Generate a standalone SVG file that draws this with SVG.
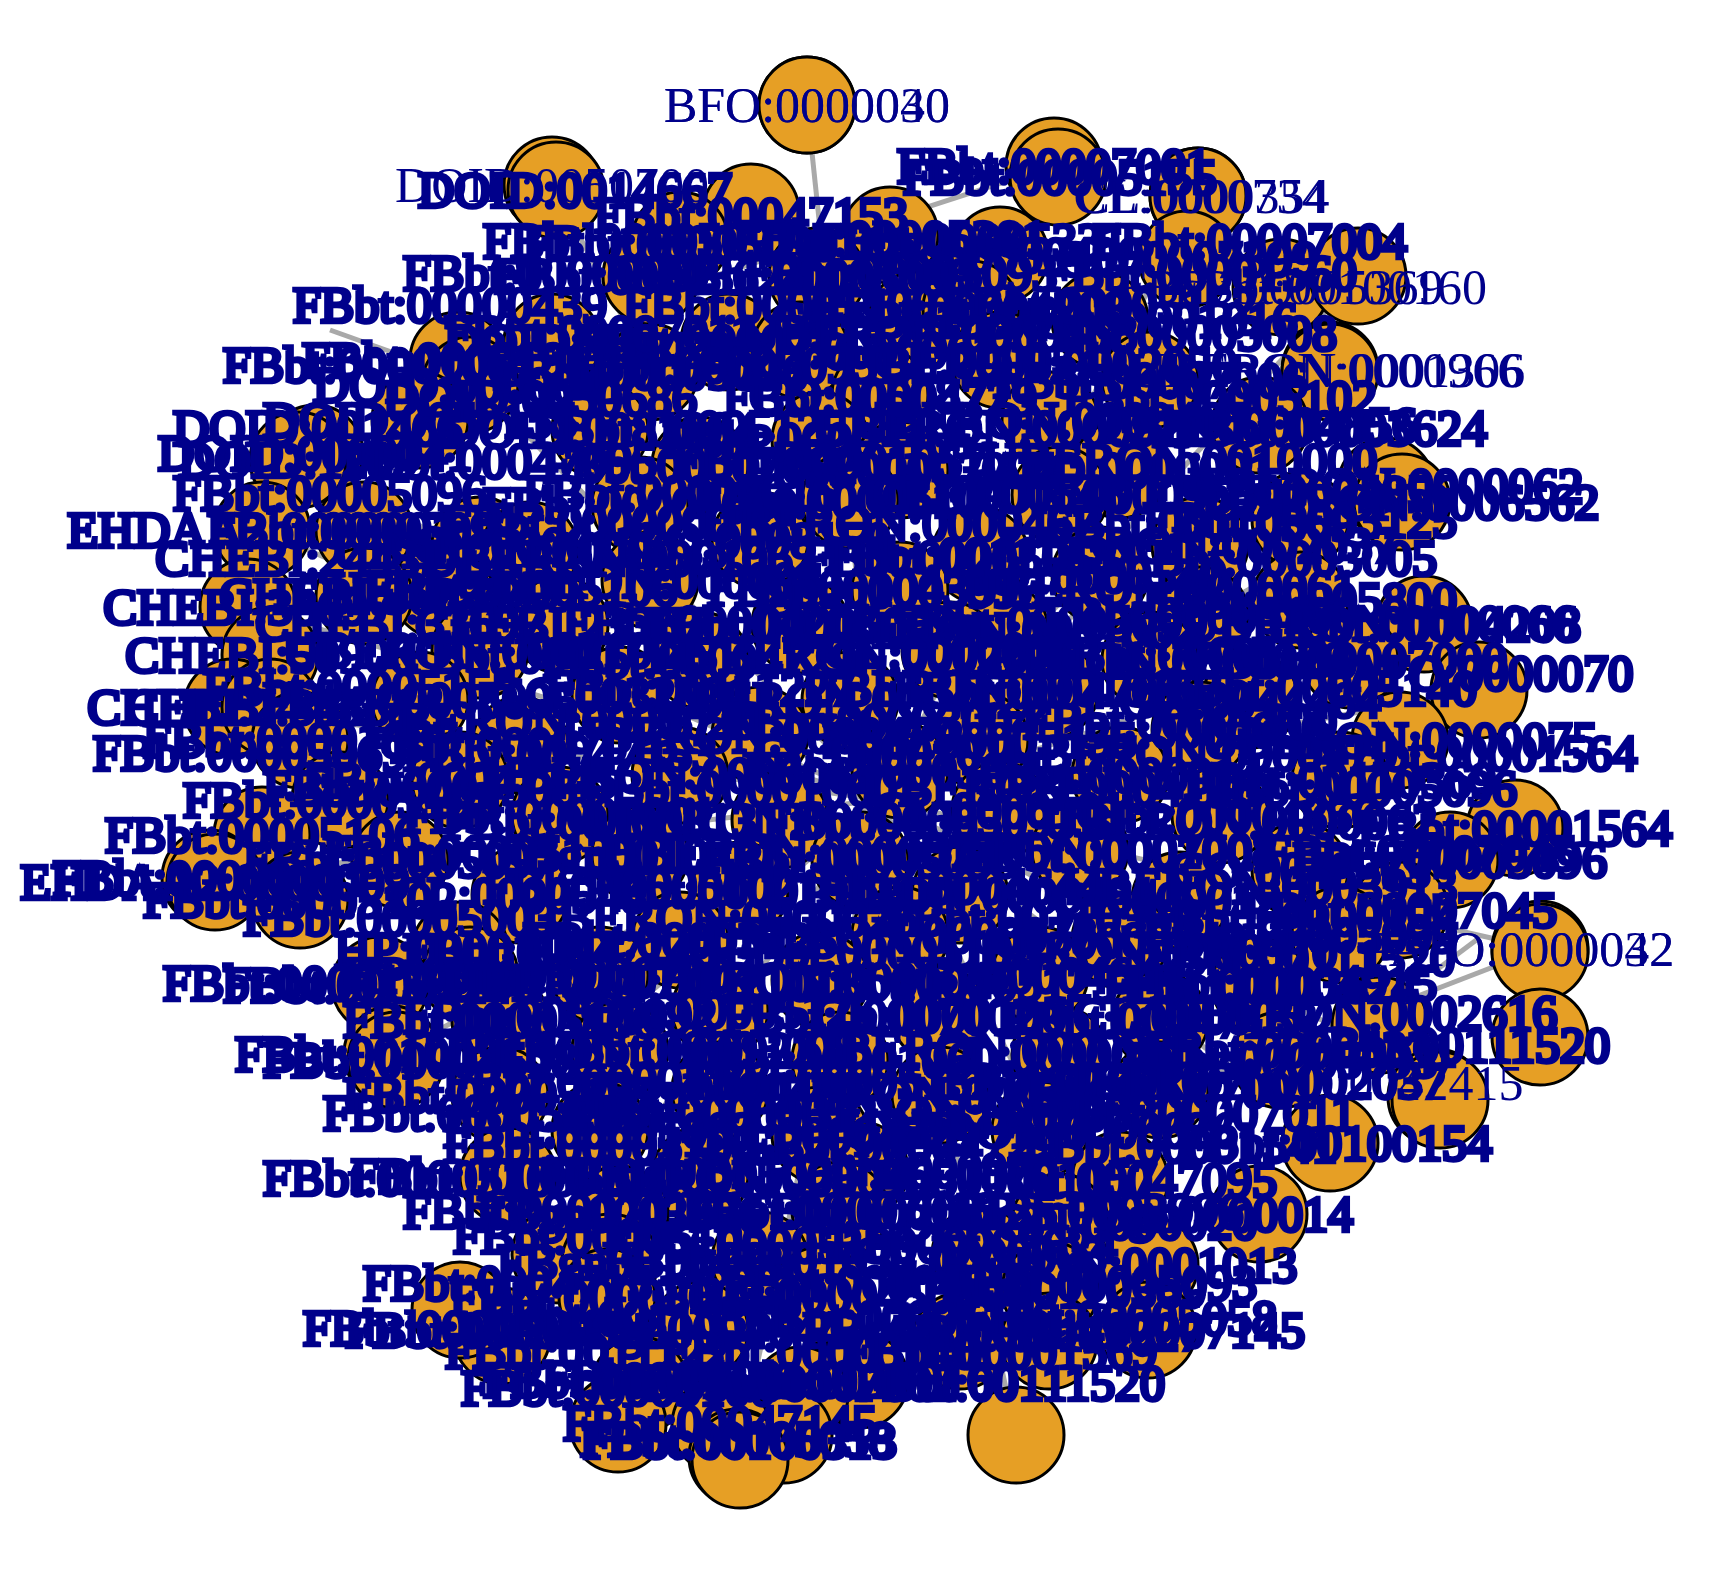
<svg xmlns="http://www.w3.org/2000/svg" width="1722" height="1572" viewBox="0 0 1722 1572">
<style>
.bg{fill:#ffffff}
.e{stroke:#A9A9A9;stroke-width:5;fill:none}
.n circle{fill:#E69F25;stroke:#000000;stroke-width:3}
.l{font-family:"Liberation Serif","Times New Roman",serif;font-size:50px;fill:#00008B;text-anchor:middle}
.b{font-family:"Liberation Serif","Times New Roman",serif;font-size:50px;fill:#00008B;stroke:#00008B;stroke-width:4.5;text-anchor:middle}
</style>
<rect class="bg" x="0" y="0" width="1722" height="1572"/>
<g id="edges">
<line class="e" x1="640" y1="300" x2="1054" y2="166"/>
<line class="e" x1="880" y1="800" x2="1479" y2="690"/>
<line class="e" x1="1300" y1="800" x2="1479" y2="690"/>
<line class="e" x1="1200" y1="1080" x2="1540" y2="949"/>
<line class="e" x1="880" y1="800" x2="1540" y2="949"/>
<line class="e" x1="880" y1="800" x2="563" y2="1065"/>
<line class="e" x1="458" y1="364" x2="880" y2="800"/>
<line class="e" x1="807" y1="105" x2="880" y2="800"/>
<line class="e" x1="552" y1="185" x2="880" y2="800"/>
<line class="e" x1="1198" y1="196" x2="880" y2="800"/>
<line class="e" x1="1358" y1="276" x2="880" y2="800"/>
<line class="e" x1="1330" y1="370" x2="880" y2="800"/>
<line class="e" x1="1402" y1="502" x2="880" y2="800"/>
<line class="e" x1="1424" y1="624" x2="880" y2="800"/>
<line class="e" x1="1446" y1="1082" x2="880" y2="800"/>
<line class="e" x1="1330" y1="1143" x2="880" y2="800"/>
<line class="e" x1="1148" y1="1330" x2="880" y2="800"/>
<line class="e" x1="1016" y1="1435" x2="880" y2="800"/>
<line class="e" x1="737" y1="1457" x2="880" y2="800"/>
<line class="e" x1="502" y1="1336" x2="880" y2="800"/>
<line class="e" x1="392" y1="1054" x2="880" y2="800"/>
<line class="e" x1="210" y1="878" x2="880" y2="800"/>
<line class="e" x1="232" y1="707" x2="880" y2="800"/>
<line class="e" x1="248" y1="607" x2="880" y2="800"/>
<line class="e" x1="262" y1="530" x2="880" y2="800"/>
<line class="e" x1="298" y1="453" x2="880" y2="800"/>
<line class="e" x1="425" y1="364" x2="330" y2="330"/>
<line class="e" x1="1435" y1="971" x2="1479" y2="938"/>
<line class="e" x1="560" y1="1065" x2="700" y2="900"/>
</g>
<g id="nodes">
<g id="n1" class="n"><circle cx="807" cy="105" r="48"/></g>
<g id="n2" class="n"><circle cx="807" cy="105" r="48"/></g>
<g id="n3" class="n"><circle cx="552" cy="185" r="48"/></g>
<g id="n4" class="n"><circle cx="556" cy="190" r="48"/></g>
<g id="n5" class="n"><circle cx="1054" cy="166" r="48"/></g>
<g id="n6" class="n"><circle cx="1058" cy="177" r="48"/></g>
<g id="n7" class="n"><circle cx="1198" cy="196" r="48"/></g>
<g id="n8" class="n"><circle cx="1198" cy="196" r="48"/></g>
<g id="n9" class="n"><circle cx="751" cy="212" r="48"/></g>
<g id="n10" class="n"><circle cx="680" cy="240" r="48"/></g>
<g id="n11" class="n"><circle cx="890" cy="235" r="48"/></g>
<g id="n12" class="n"><circle cx="651" cy="276" r="48"/></g>
<g id="n13" class="n"><circle cx="1187" cy="259" r="48"/></g>
<g id="n14" class="n"><circle cx="1281" cy="287" r="48"/></g>
<g id="n15" class="n"><circle cx="1358" cy="276" r="48"/></g>
<g id="n16" class="n"><circle cx="1000" cy="255" r="48"/></g>
<g id="n17" class="n"><circle cx="817" cy="276" r="48"/></g>
<g id="n18" class="n"><circle cx="916" cy="320" r="48"/></g>
<g id="n19" class="n"><circle cx="971" cy="309" r="48"/></g>
<g id="n20" class="n"><circle cx="729" cy="342" r="48"/></g>
<g id="n21" class="n"><circle cx="552" cy="342" r="48"/></g>
<g id="n22" class="n"><circle cx="1100" cy="320" r="48"/></g>
<g id="n23" class="n"><circle cx="458" cy="360" r="48"/></g>
<g id="n24" class="n"><circle cx="470" cy="385" r="48"/></g>
<g id="n25" class="n"><circle cx="800" cy="350" r="48"/></g>
<g id="n26" class="n"><circle cx="1000" cy="360" r="48"/></g>
<g id="n27" class="n"><circle cx="1330" cy="370" r="48"/></g>
<g id="n28" class="n"><circle cx="1330" cy="372" r="48"/></g>
<g id="n29" class="n"><circle cx="650" cy="372" r="48"/></g>
<g id="n30" class="n"><circle cx="1150" cy="380" r="48"/></g>
<g id="n31" class="n"><circle cx="880" cy="395" r="48"/></g>
<g id="n32" class="n"><circle cx="420" cy="420" r="48"/></g>
<g id="n33" class="n"><circle cx="600" cy="430" r="48"/></g>
<g id="n34" class="n"><circle cx="820" cy="440" r="48"/></g>
<g id="n35" class="n"><circle cx="1050" cy="420" r="48"/></g>
<g id="n36" class="n"><circle cx="1260" cy="425" r="48"/></g>
<g id="n37" class="n"><circle cx="315" cy="453" r="48"/></g>
<g id="n38" class="n"><circle cx="298" cy="460" r="48"/></g>
<g id="n39" class="n"><circle cx="700" cy="465" r="48"/></g>
<g id="n40" class="n"><circle cx="900" cy="470" r="48"/></g>
<g id="n41" class="n"><circle cx="1386" cy="486" r="48"/></g>
<g id="n42" class="n"><circle cx="1120" cy="470" r="48"/></g>
<g id="n43" class="n"><circle cx="262" cy="530" r="48"/></g>
<g id="n44" class="n"><circle cx="364" cy="530" r="48"/></g>
<g id="n45" class="n"><circle cx="640" cy="505" r="48"/></g>
<g id="n46" class="n"><circle cx="850" cy="500" r="48"/></g>
<g id="n47" class="n"><circle cx="1060" cy="495" r="48"/></g>
<g id="n48" class="n"><circle cx="1402" cy="502" r="48"/></g>
<g id="n49" class="n"><circle cx="1300" cy="520" r="48"/></g>
<g id="n50" class="n"><circle cx="480" cy="545" r="48"/></g>
<g id="n51" class="n"><circle cx="530" cy="550" r="48"/></g>
<g id="n52" class="n"><circle cx="760" cy="540" r="48"/></g>
<g id="n53" class="n"><circle cx="980" cy="555" r="48"/></g>
<g id="n54" class="n"><circle cx="1200" cy="545" r="48"/></g>
<g id="n55" class="n"><circle cx="440" cy="590" r="48"/></g>
<g id="n56" class="n"><circle cx="650" cy="580" r="48"/></g>
<g id="n57" class="n"><circle cx="900" cy="590" r="48"/></g>
<g id="n58" class="n"><circle cx="1100" cy="575" r="48"/></g>
<g id="n59" class="n"><circle cx="1300" cy="600" r="48"/></g>
<g id="n60" class="n"><circle cx="248" cy="607" r="48"/></g>
<g id="n61" class="n"><circle cx="364" cy="596" r="48"/></g>
<g id="n62" class="n"><circle cx="560" cy="625" r="48"/></g>
<g id="n63" class="n"><circle cx="800" cy="625" r="48"/></g>
<g id="n64" class="n"><circle cx="1000" cy="630" r="48"/></g>
<g id="n65" class="n"><circle cx="1424" cy="624" r="48"/></g>
<g id="n66" class="n"><circle cx="1479" cy="690" r="48"/></g>
<g id="n67" class="n"><circle cx="1200" cy="615" r="48"/></g>
<g id="n68" class="n"><circle cx="270" cy="655" r="48"/></g>
<g id="n69" class="n"><circle cx="232" cy="707" r="48"/></g>
<g id="n70" class="n"><circle cx="270" cy="707" r="48"/></g>
<g id="n71" class="n"><circle cx="480" cy="650" r="48"/></g>
<g id="n72" class="n"><circle cx="700" cy="660" r="48"/></g>
<g id="n73" class="n"><circle cx="950" cy="650" r="48"/></g>
<g id="n74" class="n"><circle cx="1150" cy="660" r="48"/></g>
<g id="n75" class="n"><circle cx="1350" cy="660" r="48"/></g>
<g id="n76" class="n"><circle cx="420" cy="700" r="48"/></g>
<g id="n77" class="n"><circle cx="620" cy="695" r="48"/></g>
<g id="n78" class="n"><circle cx="850" cy="700" r="48"/></g>
<g id="n79" class="n"><circle cx="1050" cy="690" r="48"/></g>
<g id="n80" class="n"><circle cx="1250" cy="700" r="48"/></g>
<g id="n81" class="n"><circle cx="300" cy="740" r="48"/></g>
<g id="n82" class="n"><circle cx="520" cy="745" r="48"/></g>
<g id="n83" class="n"><circle cx="760" cy="735" r="48"/></g>
<g id="n84" class="n"><circle cx="980" cy="740" r="48"/></g>
<g id="n85" class="n"><circle cx="1200" cy="730" r="48"/></g>
<g id="n86" class="n"><circle cx="1400" cy="740" r="48"/></g>
<g id="n87" class="n"><circle cx="340" cy="800" r="48"/></g>
<g id="n88" class="n"><circle cx="460" cy="780" r="48"/></g>
<g id="n89" class="n"><circle cx="680" cy="775" r="48"/></g>
<g id="n90" class="n"><circle cx="900" cy="770" r="48"/></g>
<g id="n91" class="n"><circle cx="1120" cy="775" r="48"/></g>
<g id="n92" class="n"><circle cx="1340" cy="780" r="48"/></g>
<g id="n93" class="n"><circle cx="1515" cy="828" r="48"/></g>
<g id="n94" class="n"><circle cx="262" cy="835" r="48"/></g>
<g id="n95" class="n"><circle cx="560" cy="815" r="48"/></g>
<g id="n96" class="n"><circle cx="780" cy="820" r="48"/></g>
<g id="n97" class="n"><circle cx="1000" cy="810" r="48"/></g>
<g id="n98" class="n"><circle cx="1220" cy="815" r="48"/></g>
<g id="n99" class="n"><circle cx="1450" cy="860" r="48"/></g>
<g id="n100" class="n"><circle cx="210" cy="878" r="48"/></g>
<g id="n101" class="n"><circle cx="215" cy="882" r="48"/></g>
<g id="n102" class="n"><circle cx="400" cy="860" r="48"/></g>
<g id="n103" class="n"><circle cx="640" cy="855" r="48"/></g>
<g id="n104" class="n"><circle cx="860" cy="860" r="48"/></g>
<g id="n105" class="n"><circle cx="1080" cy="850" r="48"/></g>
<g id="n106" class="n"><circle cx="1300" cy="870" r="48"/></g>
<g id="n107" class="n"><circle cx="300" cy="900" r="48"/></g>
<g id="n108" class="n"><circle cx="520" cy="895" r="48"/></g>
<g id="n109" class="n"><circle cx="740" cy="890" r="48"/></g>
<g id="n110" class="n"><circle cx="960" cy="895" r="48"/></g>
<g id="n111" class="n"><circle cx="1180" cy="900" r="48"/></g>
<g id="n112" class="n"><circle cx="1400" cy="910" r="48"/></g>
<g id="n113" class="n"><circle cx="460" cy="950" r="48"/></g>
<g id="n114" class="n"><circle cx="470" cy="975" r="48"/></g>
<g id="n115" class="n"><circle cx="680" cy="940" r="48"/></g>
<g id="n116" class="n"><circle cx="900" cy="935" r="48"/></g>
<g id="n117" class="n"><circle cx="1120" cy="940" r="48"/></g>
<g id="n118" class="n"><circle cx="1340" cy="935" r="48"/></g>
<g id="n119" class="n"><circle cx="1540" cy="949" r="48"/></g>
<g id="n120" class="n"><circle cx="1540" cy="952" r="48"/></g>
<g id="n121" class="n"><circle cx="380" cy="985" r="48"/></g>
<g id="n122" class="n"><circle cx="600" cy="975" r="48"/></g>
<g id="n123" class="n"><circle cx="820" cy="980" r="48"/></g>
<g id="n124" class="n"><circle cx="1040" cy="975" r="48"/></g>
<g id="n125" class="n"><circle cx="1260" cy="985" r="48"/></g>
<g id="n126" class="n"><circle cx="1540" cy="1037" r="48"/></g>
<g id="n127" class="n"><circle cx="500" cy="1020" r="48"/></g>
<g id="n128" class="n"><circle cx="720" cy="1010" r="48"/></g>
<g id="n129" class="n"><circle cx="940" cy="1015" r="48"/></g>
<g id="n130" class="n"><circle cx="1160" cy="1020" r="48"/></g>
<g id="n131" class="n"><circle cx="1380" cy="1025" r="48"/></g>
<g id="n132" class="n"><circle cx="392" cy="1054" r="48"/></g>
<g id="n133" class="n"><circle cx="396" cy="1060" r="48"/></g>
<g id="n134" class="n"><circle cx="620" cy="1050" r="48"/></g>
<g id="n135" class="n"><circle cx="840" cy="1060" r="48"/></g>
<g id="n136" class="n"><circle cx="1060" cy="1055" r="48"/></g>
<g id="n137" class="n"><circle cx="1280" cy="1060" r="48"/></g>
<g id="n138" class="n"><circle cx="1436" cy="1097" r="48"/></g>
<g id="n139" class="n"><circle cx="500" cy="1095" r="48"/></g>
<g id="n140" class="n"><circle cx="720" cy="1090" r="48"/></g>
<g id="n141" class="n"><circle cx="940" cy="1095" r="48"/></g>
<g id="n142" class="n"><circle cx="1160" cy="1090" r="48"/></g>
<g id="n143" class="n"><circle cx="1440" cy="1100" r="48"/></g>
<g id="n144" class="n"><circle cx="600" cy="1130" r="48"/></g>
<g id="n145" class="n"><circle cx="820" cy="1135" r="48"/></g>
<g id="n146" class="n"><circle cx="1040" cy="1130" r="48"/></g>
<g id="n147" class="n"><circle cx="1330" cy="1143" r="48"/></g>
<g id="n148" class="n"><circle cx="508" cy="1176" r="48"/></g>
<g id="n149" class="n"><circle cx="700" cy="1175" r="48"/></g>
<g id="n150" class="n"><circle cx="860" cy="1170" r="48"/></g>
<g id="n151" class="n"><circle cx="1120" cy="1180" r="48"/></g>
<g id="n152" class="n"><circle cx="620" cy="1214" r="48"/></g>
<g id="n153" class="n"><circle cx="840" cy="1210" r="48"/></g>
<g id="n154" class="n"><circle cx="1259" cy="1214" r="48"/></g>
<g id="n155" class="n"><circle cx="1060" cy="1222" r="48"/></g>
<g id="n156" class="n"><circle cx="560" cy="1255" r="48"/></g>
<g id="n157" class="n"><circle cx="610" cy="1262" r="48"/></g>
<g id="n158" class="n"><circle cx="760" cy="1260" r="48"/></g>
<g id="n159" class="n"><circle cx="980" cy="1255" r="48"/></g>
<g id="n160" class="n"><circle cx="1150" cy="1265" r="48"/></g>
<g id="n161" class="n"><circle cx="607" cy="1297" r="48"/></g>
<g id="n162" class="n"><circle cx="820" cy="1295" r="48"/></g>
<g id="n163" class="n"><circle cx="1050" cy="1290" r="48"/></g>
<g id="n164" class="n"><circle cx="502" cy="1336" r="48"/></g>
<g id="n165" class="n"><circle cx="700" cy="1330" r="48"/></g>
<g id="n166" class="n"><circle cx="960" cy="1341" r="48"/></g>
<g id="n167" class="n"><circle cx="1049" cy="1341" r="48"/></g>
<g id="n168" class="n"><circle cx="1148" cy="1330" r="48"/></g>
<g id="n169" class="n"><circle cx="460" cy="1310" r="48"/></g>
<g id="n170" class="n"><circle cx="640" cy="1385" r="48"/></g>
<g id="n171" class="n"><circle cx="860" cy="1380" r="48"/></g>
<g id="n172" class="n"><circle cx="800" cy="1395" r="48"/></g>
<g id="n173" class="n"><circle cx="618" cy="1424" r="48"/></g>
<g id="n174" class="n"><circle cx="784" cy="1435" r="48"/></g>
<g id="n175" class="n"><circle cx="1016" cy="1435" r="48"/></g>
<g id="n176" class="n"><circle cx="720" cy="1425" r="48"/></g>
<g id="n177" class="n"><circle cx="737" cy="1457" r="48"/></g>
<g id="n178" class="n"><circle cx="740" cy="1460" r="48"/></g>
</g>
<g id="labels">
<text class="l" x="807" y="122">BFO:0000040</text>
<text class="l" x="807" y="122">BFO:0000030</text>
<text class="l" x="552" y="202">DOID:0050700</text>
<text class="b" x="575" y="207">DOID:0014667</text>
<text class="b" x="1054" y="183">FBbt:00007001</text>
<text class="b" x="1060" y="194">FBbt:00005155</text>
<text class="l" x="1200" y="213">CL:0000734</text>
<text class="l" x="1203" y="213">CL:0000354</text>
<text class="b" x="751" y="232">FBbt:00047153</text>
<text class="b" x="680" y="260">FBbt:00005093</text>
<text class="b" x="890" y="255">FBbt:00005381</text>
<text class="b" x="651" y="293">FBbt:00003624</text>
<text class="b" x="1187" y="276">GO:0007399</text>
<text class="l" x="1281" y="304">FBdv:00005369</text>
<text class="l" x="1330" y="304">FBbt:00100160</text>
<text class="b" x="1000" y="272">FBgn0000490</text>
<text class="b" x="817" y="293">FBbt:00005099</text>
<text class="b" x="916" y="337">CHEBI:15377</text>
<text class="b" x="971" y="326">FBbt:00004208</text>
<text class="b" x="729" y="359">FBbt:00007145</text>
<text class="b" x="552" y="359">DOID:162</text>
<text class="b" x="1100" y="337">UBERON:0001016</text>
<text class="b" x="458" y="377">FBbt:00001911</text>
<text class="b" x="470" y="402">DOID:0060041</text>
<text class="b" x="800" y="367">UBERON:0000061</text>
<text class="b" x="1000" y="377">CL:0000540</text>
<text class="l" x="1325" y="387">UBERON:0000966</text>
<text class="l" x="1328" y="387">UBERON:0001306</text>
<text class="b" x="650" y="389">FBbt:00005096</text>
<text class="b" x="1150" y="397">FBbt:00007006</text>
<text class="b" x="880" y="412">GO:0050877</text>
<text class="b" x="420" y="437">DOID:0050155</text>
<text class="b" x="600" y="447">DOID:0081004</text>
<text class="b" x="820" y="457">FBbt:00005105</text>
<text class="b" x="1050" y="437">UBERON:0000465</text>
<text class="b" x="1260" y="442">FBbt:00004856</text>
<text class="b" x="315" y="470">DOID:0060041</text>
<text class="b" x="298" y="477">DOID:1289</text>
<text class="b" x="700" y="482">FBbt:00007002</text>
<text class="b" x="900" y="487">FBbt:00003004</text>
<text class="b" x="1386" y="503">UBERON:0000062</text>
<text class="b" x="1120" y="487">PATO:0000001</text>
<text class="b" x="262" y="547">EHDAA2:0000001</text>
<text class="b" x="364" y="547">FBbt:00005093</text>
<text class="b" x="640" y="522">FBbt:00001060</text>
<text class="b" x="850" y="517">FBbt:00005106</text>
<text class="b" x="1060" y="512">UBERON:0000955</text>
<text class="b" x="1402" y="519">UBERON:0006562</text>
<text class="b" x="1300" y="537">FBbt:00003125</text>
<text class="b" x="540" y="562">CL:0000125</text>
<text class="b" x="530" y="567">UBERON:0000033</text>
<text class="b" x="760" y="557">GO:0008150</text>
<text class="b" x="980" y="572">FBbt:00111227</text>
<text class="b" x="1200" y="562">UBERON:0002037</text>
<text class="b" x="440" y="607">CHEBI:24431</text>
<text class="b" x="650" y="597">UBERON:0000061</text>
<text class="b" x="900" y="607">FBgn0003996</text>
<text class="b" x="1100" y="592">CL:0000540</text>
<text class="b" x="1300" y="617">FBbt:00005800</text>
<text class="b" x="248" y="624">CHEBI:33697</text>
<text class="b" x="364" y="613">CHEBI:36357</text>
<text class="b" x="560" y="642">CHEBI:23367</text>
<text class="b" x="800" y="642">FBbt:00005069</text>
<text class="b" x="1000" y="647">UBERON:0001062</text>
<text class="b" x="1424" y="641">FBbt:00004208</text>
<text class="b" x="1479" y="690">PATO:0000070</text>
<text class="b" x="1200" y="632">FBbt:00005100</text>
<text class="b" x="270" y="672">CHEBI:50906</text>
<text class="b" x="232" y="724">CHEBI:24432</text>
<text class="b" x="270" y="724">CHEBI:35381</text>
<text class="b" x="480" y="667">UBERON:0002101</text>
<text class="b" x="700" y="677">FBbt:00004729</text>
<text class="b" x="950" y="667">CL:0000003</text>
<text class="b" x="1150" y="677">UBERON:0000020</text>
<text class="b" x="1350" y="677">FBbt:00007000</text>
<text class="b" x="420" y="717">FBbt:00005095</text>
<text class="b" x="620" y="712">GO:0032501</text>
<text class="b" x="850" y="717">UBERON:0004120</text>
<text class="b" x="1050" y="707">FBbt:00047095</text>
<text class="b" x="1250" y="717">GO:0044464</text>
<text class="b" x="300" y="757">FBbt:00001057</text>
<text class="b" x="520" y="762">FBbt:00007016</text>
<text class="b" x="760" y="752">UBERON:0000479</text>
<text class="b" x="980" y="757">FBbt:00005155</text>
<text class="b" x="1200" y="747">CL:0000000</text>
<text class="b" x="1400" y="757">UBERON:0000075</text>
<text class="b" x="340" y="817">FBbt:00005103</text>
<text class="b" x="460" y="797">FBbt:00047145</text>
<text class="b" x="680" y="792">UBERON:0000062</text>
<text class="b" x="900" y="787">FBbt:00003005</text>
<text class="b" x="1120" y="792">FBgn0000014</text>
<text class="b" x="1340" y="797">FBbt:00110369</text>
<text class="b" x="1515" y="845">FBbt:00001564</text>
<text class="b" x="262" y="852">FBbt:00005106</text>
<text class="b" x="560" y="832">FBbt:00007001</text>
<text class="b" x="780" y="837">UBERON:0000468</text>
<text class="b" x="1000" y="827">CL:0000101</text>
<text class="b" x="1220" y="832">FBbt:00004856</text>
<text class="b" x="1450" y="877">FBbt:00005096</text>
<text class="b" x="210" y="895">FBbt:00000001</text>
<text class="b" x="215" y="899">EHDAA2:0000009</text>
<text class="b" x="400" y="877">FBbt:00005097</text>
<text class="b" x="640" y="872">FBgn0010433</text>
<text class="b" x="860" y="877">FBbt:00005058</text>
<text class="b" x="1080" y="867">UBERON:0001008</text>
<text class="b" x="1300" y="887">GO:0048513</text>
<text class="b" x="300" y="917">FBbt:00005102</text>
<text class="b" x="520" y="912">CL:0000548</text>
<text class="b" x="740" y="907">FBbt:00001911</text>
<text class="b" x="960" y="912">UBERON:0000481</text>
<text class="b" x="1180" y="917">CL:0000125</text>
<text class="b" x="1400" y="927">FBbt:00007045</text>
<text class="b" x="460" y="967">HP:0000118</text>
<text class="b" x="470" y="992">HP:0001939</text>
<text class="b" x="680" y="957">FBbt:00003125</text>
<text class="b" x="900" y="952">UBERON:0000073</text>
<text class="b" x="1120" y="957">CL:0000540</text>
<text class="b" x="1300" y="952">FBbt:00005099</text>
<text class="l" x="1520" y="966">PATO:0000042</text>
<text class="l" x="1520" y="966">PATO:0000032</text>
<text class="b" x="380" y="1002">FBbt:00005140</text>
<text class="b" x="600" y="992">FBbt:00007004</text>
<text class="b" x="820" y="997">UBERON:0001017</text>
<text class="b" x="1040" y="992">FBgn0004644</text>
<text class="b" x="1260" y="1002">FBbt:00003624</text>
<text class="b" x="1455" y="1062">FBbt:00111520</text>
<text class="b" x="500" y="1037">FBbt:00005106</text>
<text class="b" x="720" y="1027">FBbt:00005125</text>
<text class="b" x="940" y="1032">CL:0000100</text>
<text class="b" x="1160" y="1037">FBbt:00047153</text>
<text class="b" x="1360" y="1030">UBERON:0002616</text>
<text class="b" x="392" y="1071">FBbt:00100313</text>
<text class="b" x="420" y="1077">FBbt:00004508</text>
<text class="b" x="620" y="1067">UBERON:0000922</text>
<text class="b" x="840" y="1077">FBbt:00001060</text>
<text class="b" x="1060" y="1072">CL:0000057</text>
<text class="b" x="1280" y="1077">FBbt:00005093</text>
<text class="b" x="500" y="1112">FBbt:00005135</text>
<text class="b" x="720" y="1107">FBgn0000490</text>
<text class="b" x="940" y="1112">UBERON:0003913</text>
<text class="b" x="1160" y="1107">FBbt:00007001</text>
<text class="l" x="1393" y="1100">GO:0042415</text>
<text class="b" x="600" y="1147">FBbt:00005003</text>
<text class="b" x="820" y="1152">FBbt:00004729</text>
<text class="b" x="1040" y="1147">UBERON:0000026</text>
<text class="b" x="1335" y="1160">FBbt:00100154</text>
<text class="b" x="508" y="1193">FBbt:00003004</text>
<text class="b" x="700" y="1192">FBbt:00005069</text>
<text class="b" x="860" y="1187">UBERON:0000970</text>
<text class="b" x="1120" y="1197">FBbt:00047095</text>
<text class="b" x="620" y="1231">FBgn0003996</text>
<text class="b" x="840" y="1227">FBbt:00007016</text>
<text class="b" x="1210" y="1231">FBgn0000014</text>
<text class="b" x="1060" y="1239">UBERON:0000020</text>
<text class="b" x="610" y="1253">FBbt:00005105</text>
<text class="b" x="640" y="1279">FBgn0010433</text>
<text class="b" x="760" y="1277">FBbt:00001057</text>
<text class="b" x="980" y="1272">CL:0000003</text>
<text class="b" x="1100" y="1282">UBERON:0001013</text>
<text class="b" x="607" y="1314">FBbt:00003005</text>
<text class="b" x="820" y="1312">FBbt:00004508</text>
<text class="b" x="1050" y="1307">FBbt:00110369</text>
<text class="b" x="502" y="1347">FBbt:00005102</text>
<text class="b" x="700" y="1347">FBgn0004644</text>
<text class="b" x="960" y="1347">FBbt:00005140</text>
<text class="b" x="1049" y="1350">FBbt:00111227</text>
<text class="b" x="1148" y="1347">FBbt:00007145</text>
<text class="b" x="460" y="1345">FBbt:00005096</text>
<text class="b" x="640" y="1397">FBbt:00004856</text>
<text class="b" x="860" y="1397">FBbt:00100160</text>
<text class="b" x="800" y="1400">FBbt:00007002</text>
<text class="b" x="618" y="1405">FBbt:00005100</text>
<text class="b" x="1010" y="1400">FBbt:00111520</text>
<text class="b" x="720" y="1440">FBbt:00047145</text>
<text class="b" x="737" y="1456">FBbt:00005058</text>
<text class="b" x="740" y="1458">FBbt:00100313</text>
<text class="b" x="640" y="258">FBbt:00005092</text>
<text class="b" x="970" y="258">FBbt:00005331</text>
<text class="b" x="1250" y="258">FBbt:00007004</text>
<text class="b" x="560" y="290">FBbt:00000052</text>
<text class="b" x="900" y="290">FBbt:00005093</text>
<text class="b" x="1200" y="290">FBbt:00001560</text>
<text class="b" x="450" y="322">FBbt:00000439</text>
<text class="b" x="780" y="322">FBbt:00005100</text>
<text class="b" x="1100" y="322">FBbt:00005152</text>
<text class="b" x="600" y="350">FBbt:00007011</text>
<text class="b" x="940" y="350">UBERON:0000468</text>
<text class="b" x="1180" y="350">FBbt:00003008</text>
<text class="b" x="380" y="382">FBbt:00001061</text>
<text class="b" x="720" y="382">FBbt:00005095</text>
<text class="b" x="1040" y="382">UBERON:0002050</text>
<text class="b" x="540" y="415">DOID:0050686</text>
<text class="b" x="880" y="415">FBbt:00004729</text>
<text class="b" x="1220" y="415">FBbt:00005102</text>
<text class="b" x="330" y="445">DOID:0014667</text>
<text class="b" x="690" y="445">FBbt:00005125</text>
<text class="b" x="1010" y="445">UBERON:0000922</text>
<text class="b" x="1330" y="445">FBbt:00003624</text>
<text class="b" x="500" y="478">FBbt:00047095</text>
<text class="b" x="830" y="478">FBbt:00001057</text>
<text class="b" x="1180" y="478">UBERON:0010000</text>
<text class="b" x="330" y="510">FBbt:00005096</text>
<text class="b" x="680" y="510">FBbt:00007016</text>
<text class="b" x="1000" y="510">CL:0000548</text>
<text class="b" x="1300" y="510">FBbt:00004856</text>
<text class="b" x="600" y="540">FBbt:00000001</text>
<text class="b" x="900" y="540">UBERON:0000467</text>
<text class="b" x="1200" y="540">FBbt:00110369</text>
<text class="b" x="300" y="575">CHEBI:24431</text>
<text class="b" x="620" y="575">UBERON:0001062</text>
<text class="b" x="960" y="575">FBbt:00005058</text>
<text class="b" x="1280" y="575">FBbt:00003005</text>
<text class="b" x="520" y="605">FBbt:00005106</text>
<text class="b" x="850" y="605">FBgn0010433</text>
<text class="b" x="1160" y="605">UBERON:0000061</text>
<text class="b" x="400" y="640">CHEBI:33697</text>
<text class="b" x="720" y="640">FBbt:00004208</text>
<text class="b" x="1050" y="640">FBbt:00005099</text>
<text class="b" x="1380" y="640">UBERON:0000066</text>
<text class="b" x="560" y="672">FBbt:00007145</text>
<text class="b" x="880" y="672">UBERON:0002616</text>
<text class="b" x="1200" y="672">FBbt:00001911</text>
<text class="b" x="360" y="705">FBbt:00005155</text>
<text class="b" x="700" y="705">FBbt:00111227</text>
<text class="b" x="1000" y="705">UBERON:0001016</text>
<text class="b" x="1320" y="705">FBbt:00005140</text>
<text class="b" x="560" y="738">UBERON:0000020</text>
<text class="b" x="880" y="738">FBbt:00003004</text>
<text class="b" x="1180" y="738">FBbt:00005800</text>
<text class="b" x="250" y="770">FBbt:00005069</text>
<text class="b" x="560" y="770">FBbt:00047153</text>
<text class="b" x="880" y="770">CL:0000101</text>
<text class="b" x="1200" y="770">UBERON:0000479</text>
<text class="b" x="1480" y="770">FBbt:00001564</text>
<text class="b" x="420" y="805">FBbt:00004508</text>
<text class="b" x="740" y="805">FBbt:00001060</text>
<text class="b" x="1060" y="805">UBERON:0004120</text>
<text class="b" x="1360" y="805">FBbt:00005096</text>
<text class="b" x="600" y="838">FBbt:00100313</text>
<text class="b" x="920" y="838">FBbt:00005097</text>
<text class="b" x="1240" y="838">UBERON:0000062</text>
<text class="b" x="480" y="870">FBbt:00005135</text>
<text class="b" x="800" y="870">UBERON:0000073</text>
<text class="b" x="1120" y="870">FBbt:00007001</text>
<text class="b" x="1420" y="870">FBbt:00007045</text>
<text class="b" x="640" y="903">FBbt:00005102</text>
<text class="b" x="960" y="903">FBgn0004644</text>
<text class="b" x="1260" y="903">UBERON:0003913</text>
<text class="b" x="400" y="935">FBbt:00005003</text>
<text class="b" x="720" y="935">UBERON:0000026</text>
<text class="b" x="1040" y="935">FBbt:00110369</text>
<text class="b" x="1300" y="935">FBbt:00100154</text>
<text class="b" x="560" y="968">FBbt:00047145</text>
<text class="b" x="880" y="968">FBbt:00005103</text>
<text class="b" x="1140" y="968">UBERON:0000970</text>
<text class="b" x="1300" y="975">FBbt:00111520</text>
<text class="b" x="320" y="1000">FBbt:00001569</text>
<text class="b" x="640" y="1000">UBERON:0002101</text>
<text class="b" x="960" y="1000">FBbt:00005125</text>
<text class="b" x="1280" y="1000">FBbt:00004915</text>
<text class="b" x="560" y="1033">FBbt:00005092</text>
<text class="b" x="880" y="1033">FBbt:00007002</text>
<text class="b" x="1200" y="1033">CL:0000057</text>
<text class="b" x="700" y="1066">FBbt:00003008</text>
<text class="b" x="1000" y="1066">UBERON:0000955</text>
<text class="b" x="1300" y="1066">FBbt:00005331</text>
<text class="b" x="600" y="1098">FBbt:00000439</text>
<text class="b" x="840" y="1098">FBbt:00005152</text>
<text class="b" x="1100" y="1098">FBbt:00001061</text>
<text class="b" x="1250" y="1098">UBERON:0002037</text>
<text class="b" x="480" y="1130">FBbt:00005095</text>
<text class="b" x="720" y="1130">FBbt:00000052</text>
<text class="b" x="960" y="1130">UBERON:0000033</text>
<text class="b" x="1200" y="1130">FBbt:00007011</text>
<text class="b" x="600" y="1162">FBbt:00005105</text>
<text class="b" x="900" y="1162">FBbt:00004729</text>
<text class="b" x="1180" y="1162">FBbt:00001541</text>
<text class="b" x="420" y="1195">FBbt:00005109</text>
<text class="b" x="760" y="1195">UBERON:0000465</text>
<text class="b" x="1000" y="1195">FBbt:00001057</text>
<text class="b" x="560" y="1228">FBbt:00007016</text>
<text class="b" x="900" y="1228">FBbt:00003125</text>
<text class="b" x="1100" y="1228">FBgn0003996</text>
<text class="b" x="760" y="1262">FBbt:00005100</text>
<text class="b" x="960" y="1262">FBbt:00003624</text>
<text class="b" x="520" y="1300">FBbt:00047153</text>
<text class="b" x="880" y="1300">FBbt:00004856</text>
<text class="b" x="1100" y="1300">FBbt:00005093</text>
<text class="b" x="640" y="1335">FBbt:00110369</text>
<text class="b" x="900" y="1335">FBbt:00005106</text>
<text class="b" x="1120" y="1335">FBbt:00005058</text>
<text class="b" x="600" y="1368">FBbt:00111227</text>
<text class="b" x="820" y="1368">FBbt:00005140</text>
<text class="b" x="1000" y="1368">FBbt:00001569</text>
<text class="b" x="700" y="1395">FBbt:00100160</text>
</g>
</svg>
